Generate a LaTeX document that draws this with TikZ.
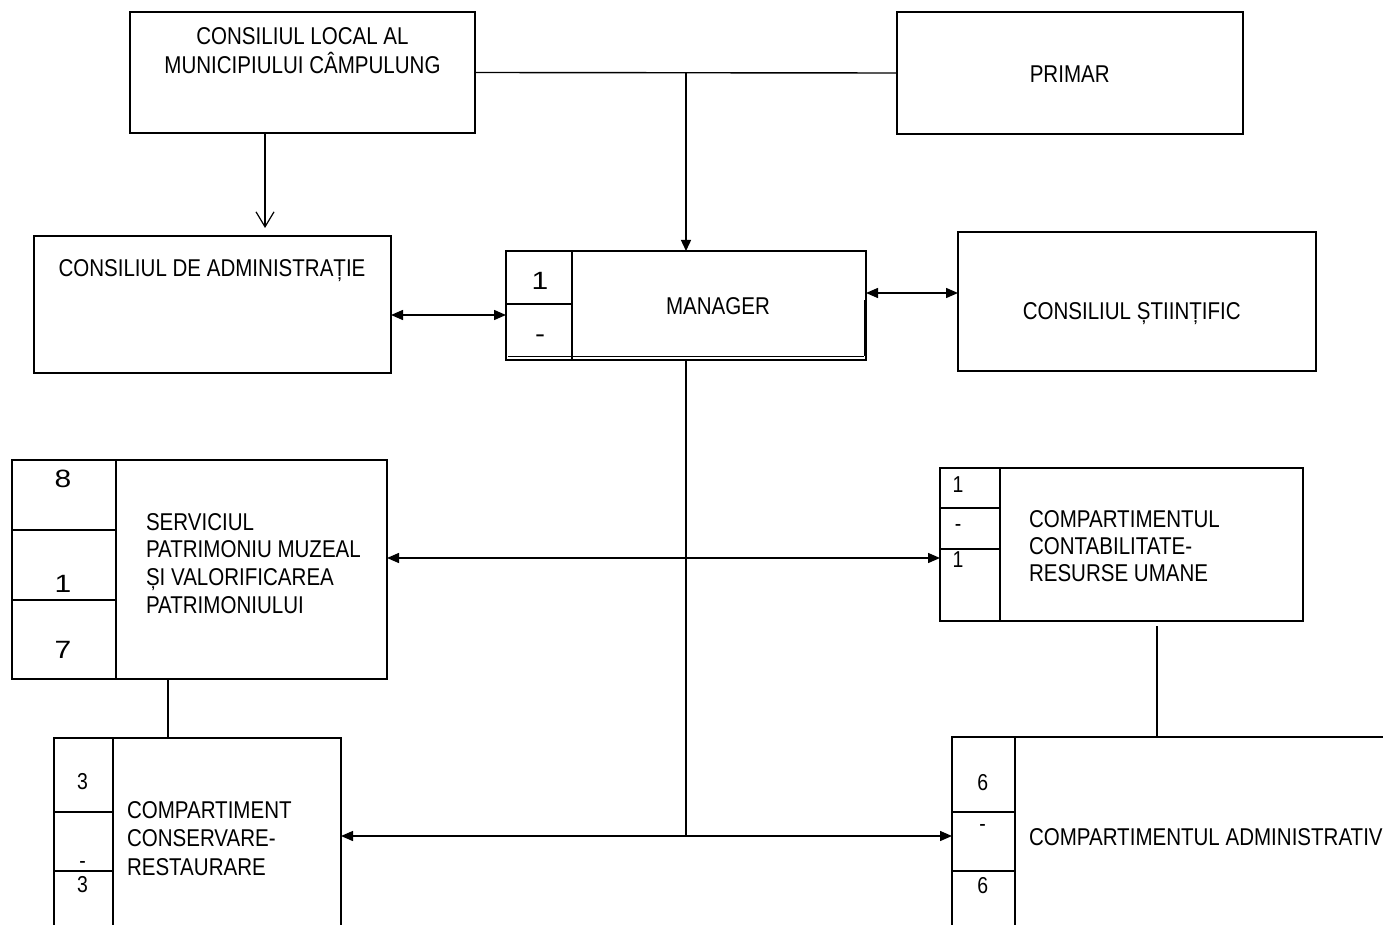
\documentclass[tikz,border=0pt]{standalone}
\usepackage{fontspec}
\setmainfont{Liberation Sans}[FakeStretch=0.845]
\newfontfamily\widedigits{Liberation Sans}[FakeStretch=1.2]
\usetikzlibrary{arrows.meta}
\tikzset{
  box/.style={draw, line width=1.4pt, rectangle, inner sep=0pt, outer sep=0pt, anchor=north west},
  txt/.style={inner sep=0pt, outer sep=0pt, font=\fontsize{24.3}{28.3}\selectfont},
  wnum/.style={txt, anchor=base, font=\widedigits\fontsize{25}{28.3}\selectfont},
  snum/.style={txt, anchor=base, font=\fontsize{23}{26}\selectfont},
  conn/.style={line width=1.4pt},
  darr/.style={conn, {Triangle[length=12pt,width=10pt]}-{Triangle[length=12pt,width=10pt]}},
  sarr/.style={conn, -{Triangle[length=11pt,width=10pt]}},
  varr/.style={conn, -{Straight Barb[length=15pt,width=18pt,line width=1.2pt]}},
  cell/.style={line width=1.2pt},
}
\begin{document}
\begin{tikzpicture}[x=1pt,y=-1pt]
\useasboundingbox (0,0) rectangle (1383,925);
\clip (0,0) rectangle (1383,925);
% boxes
\node[box, minimum width=345pt, minimum height=121pt] (CL) at (130,12) {};
\node[box, minimum width=346pt, minimum height=122pt] (PR) at (897,12) {};
\node[box, minimum width=357pt, minimum height=137pt] (CA) at (34,236) {};
\node[box, minimum width=360pt, minimum height=109pt] (MAN) at (506,251) {};
\node[box, minimum width=358pt, minimum height=139pt] (CS) at (958,232) {};
\node[box, minimum width=375pt, minimum height=219pt] (SP) at (12,460) {};
\node[box, minimum width=363pt, minimum height=153pt] (CC) at (940,468) {};
\node[box, minimum width=287pt, minimum height=210pt] (CR) at (54,738) {};
\node[box, minimum width=500pt, minimum height=210pt] (ADM) at (952,737) {};
% cell dividers
\draw[cell] (572,251) -- (572,360) (506,304) -- (572,304);
\draw[cell] (508,356.5) -- (864,356.5);
\draw[line width=2.4pt] (865,300) -- (865,356);
\draw[cell] (116,460) -- (116,679) (12,530) -- (116,530) (12,600) -- (116,600);
\draw[cell] (1000,468) -- (1000,621) (940,508) -- (1000,508) (940,549) -- (1000,549);
\draw[cell] (113,738) -- (113,925) (54,812) -- (113,812) (54,871) -- (113,871);
\draw[cell] (1015,737) -- (1015,925) (952,812) -- (1015,812) (952,871) -- (1015,871);
% texts
\node[txt, anchor=base] (tCL1) at (302.5,45) {CONSILIUL LOCAL AL};
\node[txt, anchor=base] (tCL2) at (302.5,73.3) {MUNICIPIULUI CÂMPULUNG};
\node[txt, anchor=base] (tPR) at (1069.7,82.3) {PRIMAR};
\node[txt, anchor=base] (tCA) at (212,276.7) {CONSILIUL DE ADMINISTRAȚIE};
\node[txt, anchor=base] (tMAN) at (718,314) {MANAGER};
\node[txt, anchor=base] (tCS) at (1131.7,319) {CONSILIUL ȘTIINȚIFIC};
\node[wnum] (nM1) at (540,289.3) {1};
\node[wnum] (nM2) at (540,342) {-};
\node[txt, anchor=base west] (tSP1) at (146,530) {SERVICIUL};
\node[txt, anchor=base west] (tSP2) at (146,557.5) {PATRIMONIU MUZEAL};
\node[txt, anchor=base west] (tSP3) at (146,585.3) {ȘI VALORIFICAREA};
\node[txt, anchor=base west] (tSP4) at (146,613.3) {PATRIMONIULUI};
\node[wnum] (nS1) at (63,487) {8};
\node[wnum] (nS2) at (63,592) {1};
\node[wnum] (nS3) at (63,658) {7};
\node[txt, anchor=base west] (tCC1) at (1029,527) {COMPARTIMENTUL};
\node[txt, anchor=base west] (tCC2) at (1029,554.3) {CONTABILITATE-};
\node[txt, anchor=base west] (tCC3) at (1029,581.7) {RESURSE UMANE};
\node[snum] (nC1) at (958,492) {1};
\node[snum] (nC2) at (958,531) {-};
\node[snum] (nC3) at (958,567) {1};
\node[txt, anchor=base west] (tCR1) at (127,818.3) {COMPARTIMENT};
\node[txt, anchor=base west] (tCR2) at (127,846.7) {CONSERVARE-};
\node[txt, anchor=base west] (tCR3) at (127,875) {RESTAURARE};
\node[snum] (nR1) at (82.5,789) {3};
\node[snum] (nR2) at (82.5,868) {-};
\node[snum] (nR3) at (82.5,892.7) {3};
\node[txt, anchor=base west] (tADM) at (1029,845) {COMPARTIMENTUL ADMINISTRATIV};
\node[snum] (nA1) at (982.7,790) {6};
\node[snum] (nA2) at (982.7,831) {-};
\node[snum] (nA3) at (982.7,893) {6};
% connectors
\coordinate (j1) at (686,73);
\coordinate (a1) at (265,228);
\coordinate (h1) at (450,315);
\coordinate (h2) at (910,293);
\coordinate (h3) at (686,558);
\coordinate (h4) at (686,836);
\coordinate (v1) at (168,700);
\coordinate (v2) at (1157,626);
\draw[conn] (CL.east) -- (PR.west);
\draw[sarr] (j1) -- (MAN.north);
\draw[varr] (CL.south -| a1) -- (a1);
\draw[darr] (h1 -| CA.east) -- (h1 -| MAN.west);
\draw[darr] (h2 -| MAN.east) -- (h2 -| CS.west);
\draw[conn] (MAN.south) -- (h4);
\draw[darr] (h3 -| SP.east) -- (h3 -| CC.west);
\draw[darr] (h4 -| CR.east) -- (h4 -| ADM.west);
\draw[conn] (SP.south -| v1) -- (CR.north -| v1);
\draw[conn] (v2) -- (ADM.north -| v2);
\end{tikzpicture}
\end{document}
